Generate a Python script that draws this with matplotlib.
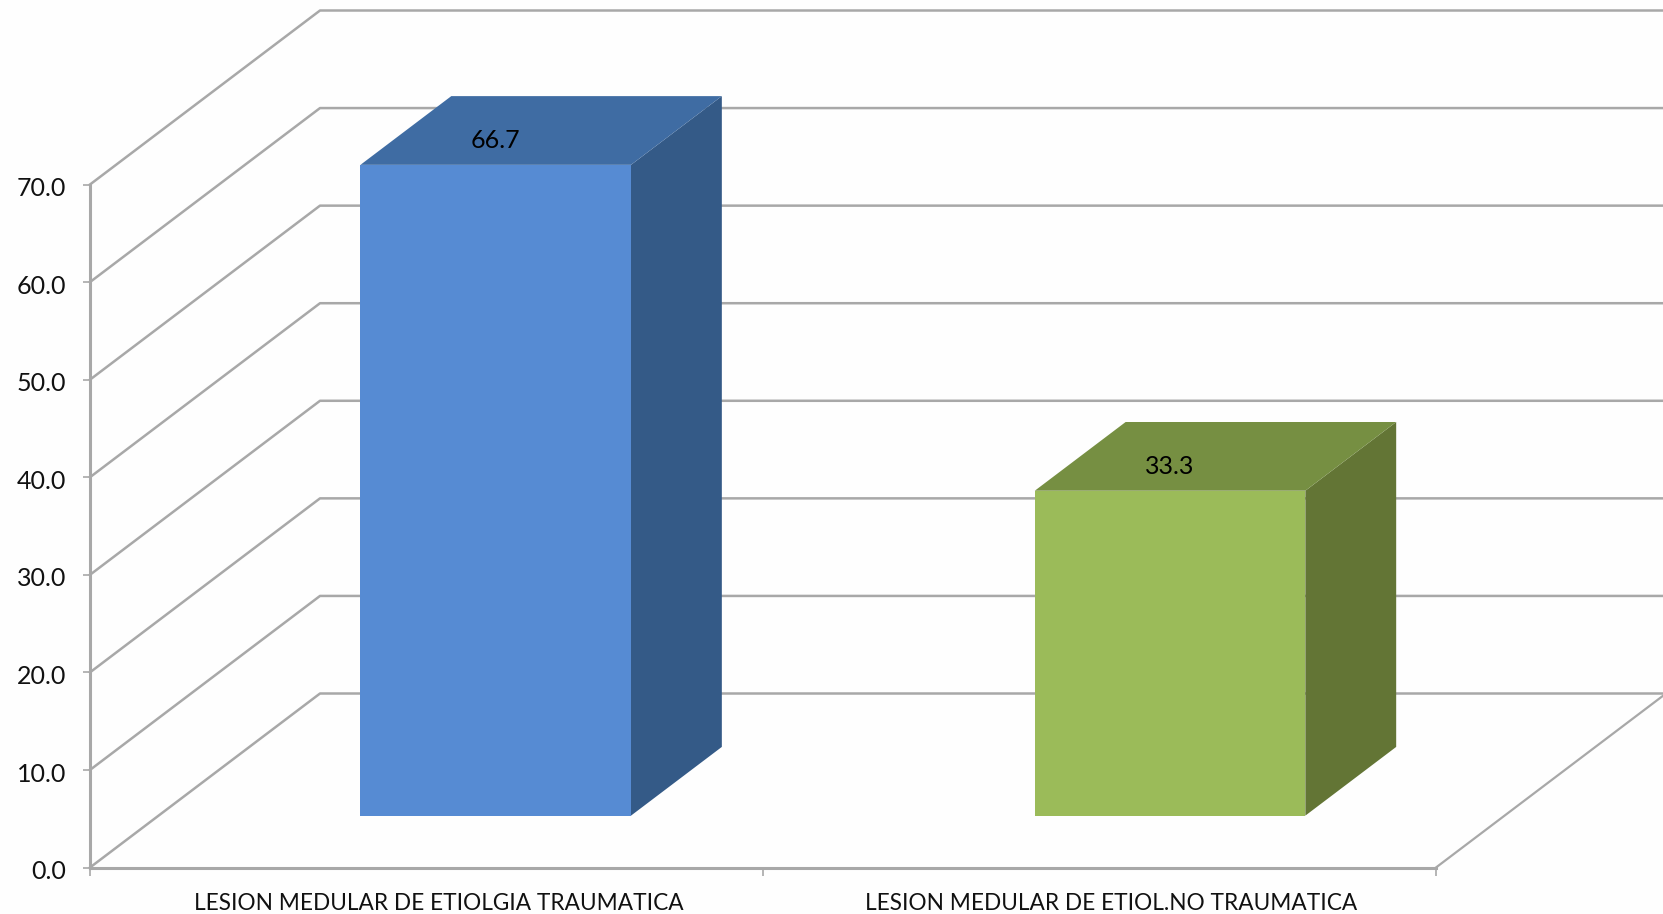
import matplotlib
matplotlib.use("Agg")
import matplotlib.pyplot as plt
from matplotlib.patches import Polygon
from matplotlib.transforms import ScaledTranslation

categories = ["LESION MEDULAR DE ETIOLGIA TRAUMATICA", "LESION MEDULAR DE ETIOL.NO TRAUMATICA"]
values = [66.7, 33.3]
value_labels = ["66.7", "33.3"]
y_ticks = [0, 10, 20, 30, 40, 50, 60, 70]
y_tick_labels = ["0.0", "10.0", "20.0", "30.0", "40.0", "50.0", "60.0", "70.0"]
front_colors = ["#568BD3", "#9BBB59"]
top_colors = ["#3F6CA3", "#768F42"]
side_colors = ["#345A87", "#637535"]

W, H = 1663, 914
GRID = "#A8A8A8"
plt.rcParams["font.family"] = ["Lato", "DejaVu Sans"]

fig = plt.figure(figsize=(W / 100, H / 100), dpi=100, facecolor="#FEFEFE")
L, R, B, T = 90, 1436, 867.5, 184.5
ax = fig.add_axes([L / W, 1 - B / H, (R - L) / W, (B - T) / H], facecolor="none")
ax.set_xlim(0, 2)
ax.set_ylim(0, 70)

# depth projection of the 3D box: full depth moves this far in data units
DX = 230 / ((R - L) / 2)
DY = 174 / ((B - T) / 70)


def p(x, d, v):
    return (x + DX * d, v + DY * d)


# back wall, left wall and floor
for v in y_ticks:
    ax.plot(*zip(p(0, 0, v), p(0, 1, v), p(2.0, 1, v)), color=GRID, lw=1.8, clip_on=False, zorder=1)
ax.plot(*zip(p(2, 0, 0), p(2, 1, 0)), color=GRID, lw=1.6, clip_on=False, zorder=1)

# boxes
BAR_W = 0.402
D0, D1 = 0.298, 0.693
for i, (val, lab) in enumerate(zip(values, value_labels)):
    x0 = i + 0.5 - BAR_W / 2 + 0.001 + 0.002 * i
    x1 = x0 + BAR_W
    ax.add_patch(Polygon([p(x1, D0, 0), p(x1, D1, 0), p(x1, D1, val), p(x1, D0, val)],
                         fc=side_colors[i], ec="none", clip_on=False, zorder=3))
    ax.add_patch(Polygon([p(x0, D0, val), p(x1, D0, val), p(x1, D1, val), p(x0, D1, val)],
                         fc=top_colors[i], ec="none", clip_on=False, zorder=3))
    ax.add_patch(Polygon([p(x0, D0, 0), p(x1, D0, 0), p(x1, D0, val), p(x0, D0, val)],
                         fc=front_colors[i], ec="none", clip_on=False, zorder=4))
    ax.annotate(lab, xy=p((x0 + x1) / 2, D0, val), xytext=(-0.5, 17.5), textcoords="offset points",
                ha="center", va="center", fontsize=18, color="black", zorder=5, annotation_clip=False)

for s in ("top", "right"):
    ax.spines[s].set_visible(False)
for s in ("left", "bottom"):
    ax.spines[s].set_color(GRID)
    ax.spines[s].set_linewidth(2.2)
    ax.spines[s].set_zorder(2)

ax.set_yticks(y_ticks, y_tick_labels, fontsize=18, color="#111111")
ax.tick_params(axis="y", length=5, width=1.2, color=GRID, pad=12)
shift = ScaledTranslation(0, -1.5 / 72, fig.dpi_scale_trans)
for lbl in ax.get_yticklabels():
    lbl.set_transform(lbl.get_transform() + shift)
ax.set_xticks([0, 1, 2], ["", "", ""])
ax.tick_params(axis="x", which="major", length=6, width=1.2, color=GRID)
ax.set_xticks([0.518, 1.517], categories, minor=True, fontsize=16.3, color="#111111")
ax.tick_params(axis="x", which="minor", length=0, pad=18)

fig.savefig("out.png", dpi=100, facecolor=fig.get_facecolor())
